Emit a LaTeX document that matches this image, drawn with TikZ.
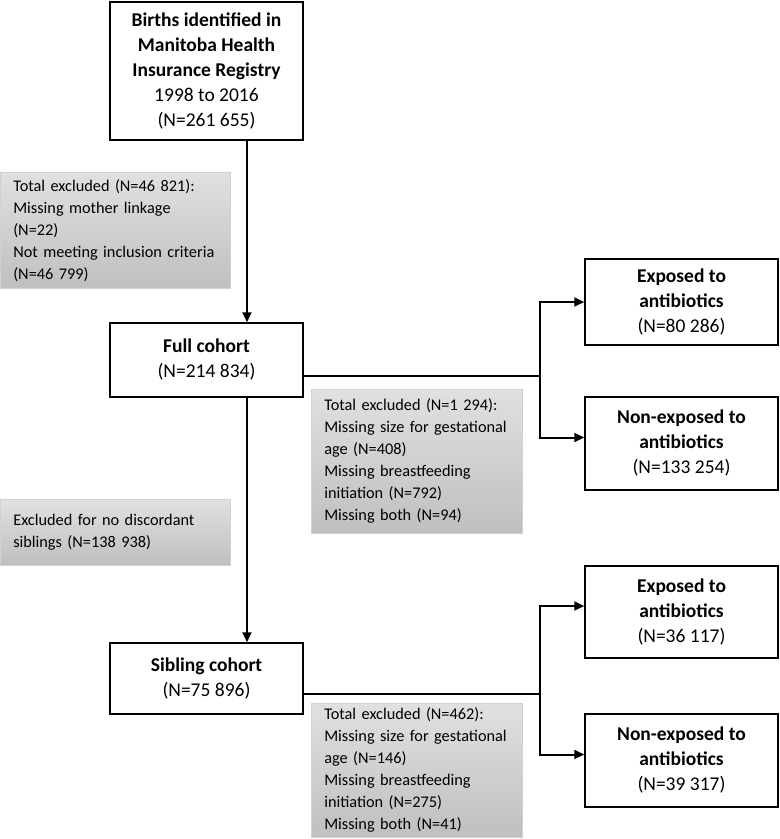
\documentclass[tikz,border=0pt]{standalone}
\usepackage{fontspec}
\setmainfont{Carlito}
\usetikzlibrary{arrows.meta}

\tikzset{
  stage/.style={draw, line width=1.5pt, align=center, inner sep=0pt,
    minimum width=193pt, font=\fontsize{19.5}{25}\selectfont},
  excl/.style={draw=black!18, line width=0.6pt, top color=black!12, bottom color=black!25,
    align=left, anchor=north west, inner xsep=13pt, inner ysep=0pt,
    font=\fontsize{16.3}{22}\selectfont},
  flow/.style={line width=2pt},
  arr/.style={flow, -{Triangle[length=10pt,width=9pt]}}
}

\begin{document}
\begin{tikzpicture}[x=1pt,y=-1pt]
\useasboundingbox (0,0) rectangle (780,839);

% main boxes
\node[stage, minimum height=138pt] (births) at (206.5,71)
  {\textbf{Births identified in}\\\textbf{Manitoba Health}\\\textbf{Insurance Registry}\\1998 to 2016\\(N=261 655)};
\node[stage, minimum height=74pt] (full) at (206.5,360) {\textbf{Full cohort}\\(N=214 834)};
\node[stage, minimum height=71pt] (sibling) at (206.5,678.5) {\textbf{Sibling cohort}\\(N=75 896)};

% outcome boxes
\node[stage, minimum height=86pt] (expA) at (681.5,302) {\textbf{Exposed to}\\\textbf{antibiotics}\\(N=80 286)};
\node[stage, minimum height=93pt] (nonA) at (681.5,443.5) {\textbf{Non-exposed to}\\\textbf{antibiotics}\\(N=133 254)};
\node[stage, minimum height=92pt] (expB) at (681.5,612) {\textbf{Exposed to}\\\textbf{antibiotics}\\(N=36 117)};
\node[stage, minimum height=93pt] (nonB) at (681.5,760.5) {\textbf{Non-exposed to}\\\textbf{antibiotics}\\(N=39 317)};

% exclusion boxes
\node[excl, text width=204pt, minimum height=116pt] (exclA) at (0,172)
  {Total excluded (N=46 821):\\Missing mother linkage\\(N=22)\\Not meeting inclusion criteria\\(N=46 799)};
\node[excl, text width=185pt, minimum height=144pt] (exclB) at (311,389)
  {Total excluded (N=1 294):\\Missing size for gestational\\age (N=408)\\Missing breastfeeding\\initiation (N=792)\\Missing both (N=94)};
\node[excl, text width=204pt, minimum height=66pt] (exclC) at (0,499)
  {Excluded for no discordant\\siblings (N=138 938)};
\node[excl, text width=185pt, minimum height=134pt] (exclD) at (311,703)
  {Total excluded (N=462):\\Missing size for gestational\\age (N=146)\\Missing breastfeeding\\initiation (N=275)\\Missing both (N=41)};

% connectors
\coordinate (trunk) at (247,0);
\coordinate (splitA) at (540,376);
\coordinate (splitB) at (540,694);
\draw[arr] (births.south -| trunk) -- (full.north -| trunk);
\draw[arr] (full.south -| trunk) -- (sibling.north -| trunk);
\draw[flow] (full.east |- splitA) -- (splitA);
\draw[arr] (splitA) |- (expA.west);
\draw[arr] (splitA) |- ([yshift=6pt]nonA.west);
\draw[flow] (sibling.east |- splitB) -- (splitB);
\draw[arr] (splitB) |- ([yshift=6pt]expB.west);
\draw[arr] (splitB) |- ([yshift=6pt]nonB.west);
\end{tikzpicture}
\end{document}
